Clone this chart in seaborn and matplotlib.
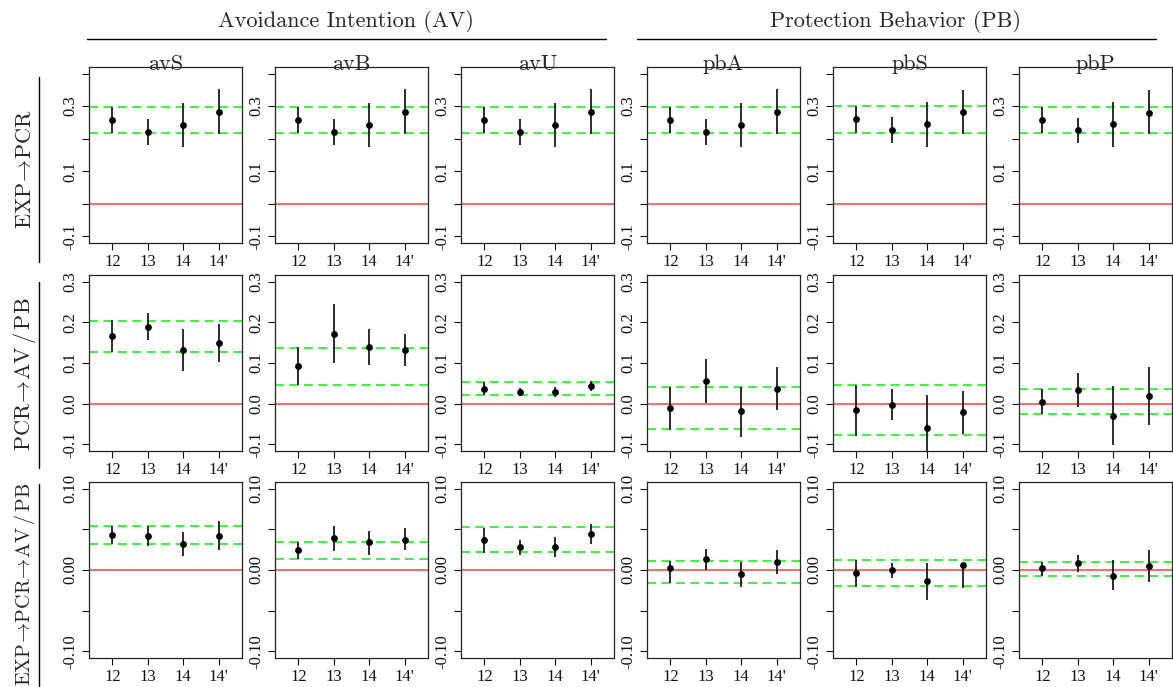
import numpy as np
import pandas as pd
import matplotlib
matplotlib.use("Agg")
import matplotlib.pyplot as plt
import seaborn as sns
from matplotlib.lines import Line2D

# ---------------- data ----------------
periods = ["12", "13", "14", "14'"]
columns = ["avS", "avB", "avU", "pbA", "pbS", "pbP"]
groups = ["Avoidance Intention (AV)", "Protection Behavior (PB)"]
row_labels = [r"EXP$\!\rightarrow\!$PCR",
              r"PCR$\!\rightarrow\!$AV$\,/\,$PB",
              r"EXP$\!\rightarrow\!$PCR$\!\rightarrow\!$AV$\,/\,$PB"]

# Row 1: EXP -> PCR
r1_est = [[0.256, 0.222, 0.243, 0.281], [0.256, 0.222, 0.243, 0.281], [0.256, 0.222, 0.243, 0.281],
          [0.257, 0.222, 0.243, 0.281], [0.261, 0.226, 0.245, 0.281], [0.257, 0.226, 0.245, 0.280]]
r1_lo = [[0.217, 0.182, 0.174, 0.213], [0.217, 0.182, 0.174, 0.213], [0.217, 0.182, 0.174, 0.213],
         [0.217, 0.182, 0.174, 0.213], [0.219, 0.186, 0.176, 0.213], [0.217, 0.187, 0.176, 0.213]]
r1_hi = [[0.297, 0.261, 0.310, 0.351], [0.297, 0.261, 0.310, 0.351], [0.297, 0.261, 0.310, 0.351],
         [0.297, 0.261, 0.310, 0.351], [0.301, 0.266, 0.314, 0.349], [0.297, 0.263, 0.312, 0.348]]
r1_band = [(0.217, 0.297), (0.217, 0.297), (0.217, 0.297), (0.217, 0.297), (0.219, 0.301), (0.217, 0.297)]

# Row 2: PCR -> AV/PB
r2_est = [[0.166, 0.188, 0.133, 0.150], [0.093, 0.172, 0.140, 0.133], [0.036, 0.028, 0.028, 0.044],
          [-0.011, 0.056, -0.019, 0.036], [-0.016, -0.002, -0.060, -0.021], [0.005, 0.033, -0.030, 0.019]]
r2_lo = [[0.127, 0.156, 0.080, 0.102], [0.047, 0.100, 0.095, 0.093], [0.021, 0.018, 0.016, 0.031],
         [-0.064, 0.003, -0.081, -0.016], [-0.078, -0.040, -0.141, -0.074], [-0.026, -0.008, -0.102, -0.052]]
r2_hi = [[0.205, 0.223, 0.184, 0.196], [0.139, 0.245, 0.184, 0.171], [0.053, 0.038, 0.040, 0.057],
         [0.041, 0.109, 0.041, 0.089], [0.045, 0.035, 0.021, 0.031], [0.036, 0.076, 0.043, 0.089]]
r2_band = [(0.128, 0.204), (0.047, 0.137), (0.021, 0.053), (-0.063, 0.041), (-0.077, 0.045), (-0.026, 0.036)]

# Row 3: EXP -> PCR -> AV/PB
r3_est = [[0.043, 0.042, 0.032, 0.042], [0.024, 0.039, 0.034, 0.037], [0.037, 0.028, 0.028, 0.044],
          [0.003, 0.014, -0.005, 0.010], [-0.004, 0.000, -0.014, 0.006], [0.002, 0.008, -0.007, 0.005]]
r3_lo = [[0.032, 0.030, 0.017, 0.024], [0.014, 0.023, 0.019, 0.024], [0.021, 0.018, 0.016, 0.032],
         [-0.016, 0.000, -0.021, -0.005], [-0.021, -0.010, -0.037, -0.022], [-0.007, -0.003, -0.025, -0.015]]
r3_hi = [[0.054, 0.054, 0.047, 0.060], [0.034, 0.054, 0.048, 0.052], [0.052, 0.037, 0.040, 0.056],
         [0.011, 0.026, 0.010, 0.025], [0.012, 0.009, 0.008, 0.009], [0.010, 0.018, 0.012, 0.024]]
r3_band = [(0.032, 0.054), (0.014, 0.034), (0.022, 0.053), (-0.016, 0.011), (-0.020, 0.012), (-0.007, 0.010)]

row_ticks = [[-0.1, 0.0, 0.1, 0.2, 0.3, 0.4],
             [-0.1, 0.0, 0.1, 0.2, 0.3],
             [-0.10, -0.05, 0.00, 0.05, 0.10]]
row_ticklabels = [["-0.1", "", "0.1", "", "0.3", ""],
                  ["-0.1", "0.0", "0.1", "0.2", "0.3"],
                  ["-0.10", "", "0.00", "", "0.10"]]
row_ylim = [(-0.12, 0.42), (-0.116, 0.316), (-0.108, 0.108)]

# ---------------- style ----------------
sns.set_theme(style="ticks")
plt.rcParams["font.family"] = ["Liberation Serif", "DejaVu Serif"]
plt.rcParams["mathtext.fontset"] = "cm"
CM = "cmr10"

W, H = 1173, 687
fig = plt.figure(figsize=(W / 100, H / 100), dpi=100)

lefts = [89, 275, 461, 647, 833, 1019]
tops = [67, 275, 482]
pw, ph = 153, 176

GREEN = "#33ee33"
RED = "#f27070"

data_rows = [(r1_est, r1_lo, r1_hi, r1_band),
             (r2_est, r2_lo, r2_hi, r2_band),
             (r3_est, r3_lo, r3_hi, r3_band)]

xpos = np.arange(1, len(periods) + 1)

for r, (est, lo, hi, band) in enumerate(data_rows):
    for c, col in enumerate(columns):
        ax = fig.add_axes([lefts[c] / W, 1 - (tops[r] + ph) / H, pw / W, ph / H])
        df = pd.DataFrame({"x": xpos, "est": est[c], "lo": lo[c], "hi": hi[c]})
        for yb in band[c]:
            ax.axhline(yb, color=GREEN, lw=1.3, ls=(0, (5, 3)), zorder=2)
        ax.axhline(0, color=RED, lw=1.5, zorder=2)
        ax.vlines(df["x"], df["lo"], df["hi"], color="#1a1a1a", lw=1.3, zorder=3)
        sns.scatterplot(data=df, x="x", y="est", ax=ax, color="black", s=24,
                        linewidth=0, zorder=5, legend=False)
        ax.set_xlim(0.34, 4.66)
        ax.set_ylim(*row_ylim[r])
        ax.set_xticks(xpos)
        ax.set_xticklabels(periods, fontsize=12)
        ax.set_yticks(row_ticks[r])
        ax.set_yticklabels(row_ticklabels[r], fontsize=12, rotation=90, va="center")
        ax.set_xlabel("")
        ax.set_ylabel("")
        ax.grid(False)
        ax.tick_params(axis="both", length=5, width=0.8, pad=3, colors="#111111")
        for sp in ax.spines.values():
            sp.set_visible(True)
            sp.set_color("#222222")
            sp.set_linewidth(0.9)
        if r == 0:
            ax.text(0.5, 1 - 2.5 / ph, col, transform=ax.transAxes, ha="center",
                    va="baseline", fontfamily=CM, fontsize=16, zorder=10, clip_on=False)

# group headers
group_centers = [346, 896]
group_lines = [(87, 606), (637, 1156)]
for g, name in enumerate(groups):
    fig.text(group_centers[g] / W, 1 - 27 / H, name, ha="center", va="baseline",
             fontfamily=CM, fontsize=16)
    x0, x1 = group_lines[g]
    fig.add_artist(Line2D([x0 / W, x1 / W], [1 - 39 / H, 1 - 39 / H],
                          color="black", lw=1.0, transform=fig.transFigure))

# row labels
row_centers = [169, 374, 584]
row_sizes = [16, 16, 14.5]
row_lines = [(77, 262), (282, 468), (484, 687)]
for r, lab in enumerate(row_labels):
    fig.text(25 / W, 1 - row_centers[r] / H, lab, rotation=90, ha="center", va="center",
             fontfamily=CM, fontsize=row_sizes[r])
    y0, y1 = row_lines[r]
    fig.add_artist(Line2D([39 / W, 39 / W], [1 - y0 / H, 1 - y1 / H],
                          color="black", lw=1.0, transform=fig.transFigure))

fig.savefig("out.png", dpi=100)
